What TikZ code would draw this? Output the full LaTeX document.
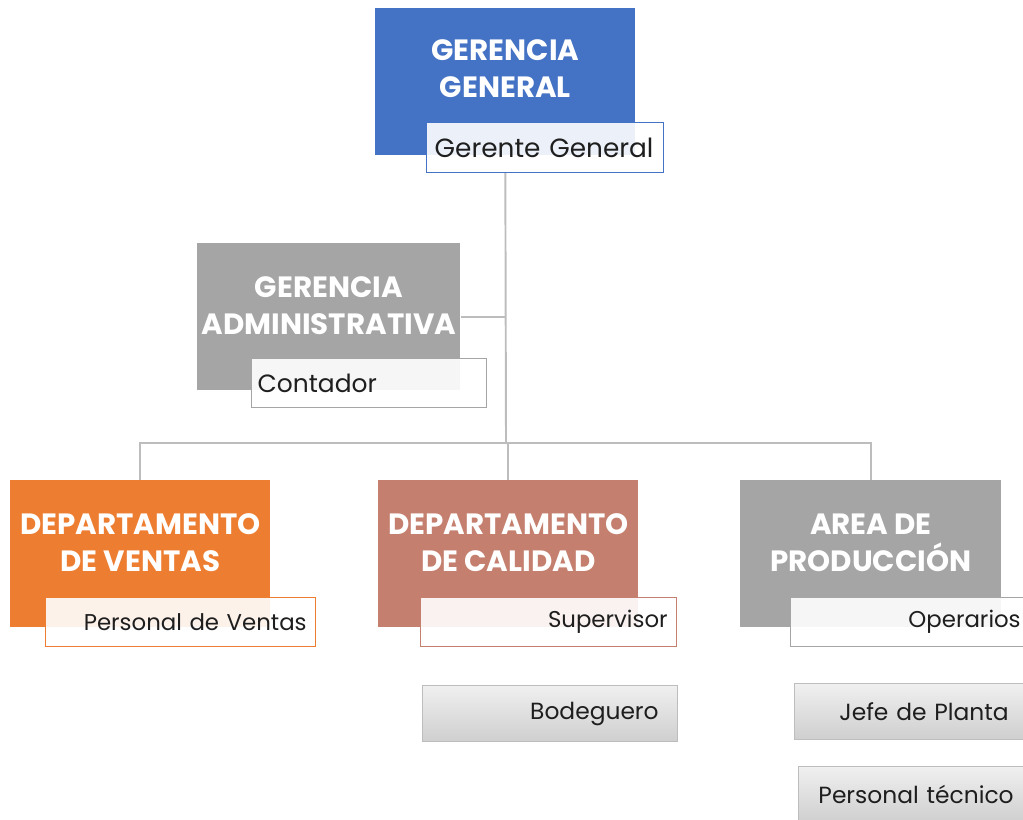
\documentclass[tikz,border=0pt]{standalone}
\usepackage{fontspec}
\setmainfont{Poppins}
\definecolor{OrgBlue}{HTML}{4472C4}
\definecolor{OrgGrey}{HTML}{A5A5A5}
\definecolor{OrgOrange}{HTML}{ED7D31}
\definecolor{OrgRose}{HTML}{C47F6E}
\definecolor{LineGrey}{HTML}{BDBDBD}
\definecolor{TextGrey}{HTML}{1E1E1E}

\begin{document}
\begin{tikzpicture}[x=0.02cm,y=-0.02cm,
  headbox/.style={anchor=north west,fill=#1,minimum width=5.2cm,minimum height=2.94cm,inner sep=0pt},
  headtext/.style={text=white,align=center,font=\fontsize{16.7}{21}\selectfont\bfseries},
  subbox/.style={anchor=north west,draw=#1,line width=.8pt,fill=white,fill opacity=.9,text opacity=1,
    text=TextGrey,minimum height=.98cm,inner xsep=.18cm,font=\fontsize{13}{15}\selectfont},
  greybox/.style={anchor=north west,draw=LineGrey,line width=.8pt,top color=gray!12,bottom color=gray!38,
    text=TextGrey,minimum height=1.12cm,inner xsep=.38cm,text width=4.34cm,align=right,
    font=\fontsize{13.3}{15}\selectfont},
  conn/.style={draw=LineGrey,line width=1.1pt}]
\useasboundingbox (0,0) rectangle (1023,820);

% gerencia general
\node[headbox=OrgBlue] (gg) at (375,8) {};
\node[headtext] (ggt) at ([yshift=-1.22cm]gg.north) {GERENCIA\\GENERAL};

% gerencia administrativa
\node[headbox=OrgGrey,minimum width=5.26cm] (ga) at (197,243) {};
\node[headtext] (gat) at ([yshift=-1.26cm]ga.north) {GERENCIA\\ADMINISTRATIVA};
\node[subbox=OrgGrey,text width=4.46cm,align=left,inner xsep=.12cm,font=\fontsize{14.2}{16}\selectfont] (gan) at (251,358) {Contador};

\coordinate (bus) at (506,443);
\draw[conn] (gg.south |- 0,172) -- (bus);
\draw[conn] (ga.east) -- (ga.east -| bus);

% departamentos
\node[headbox=OrgOrange] (ven) at (10,480) {};
\node[headtext] (vent) at ([yshift=-1.25cm]ven.north) {DEPARTAMENTO\\DE VENTAS};
\node[headbox=OrgRose] (cal) at (378,480) {};
\node[headtext] (calt) at ([yshift=-1.25cm]cal.north) {DEPARTAMENTO\\DE CALIDAD};
\node[headbox=OrgGrey,minimum width=5.22cm] (pro) at (740,480) {};
\node[headtext] (prot) at ([yshift=-1.25cm]pro.north) {AREA DE\\PRODUCCIÓN};

\draw[conn] (ven.north) |- (bus) -| (pro.north);
\draw[conn] (cal.north) -- (cal.north |- bus);

\node[subbox=OrgBlue,text width=4.42cm,align=left,inner xsep=.16cm,minimum height=1cm,
  font=\fontsize{15}{17}\selectfont] (ggn) at (426,122) {Gerente General};
\node[subbox=OrgOrange,text width=5.04cm,align=right] (venn) at (45,597) {Personal de Ventas};
\node[subbox=OrgRose,text width=4.76cm,align=right] (caln) at (420,597) {Supervisor};
\node[subbox=OrgGrey,text width=4.42cm,align=right] (pron) at (790,597) {Operarios};

% personal
\node[greybox] (bod) at (422,685) {Bodeguero};
\node[greybox,text width=3.9cm] (jef) at (794,683) {Jefe de Planta};
\node[greybox,text width=3.92cm] (tec) at (798,766) {Personal técnico};

\end{tikzpicture}
\end{document}
